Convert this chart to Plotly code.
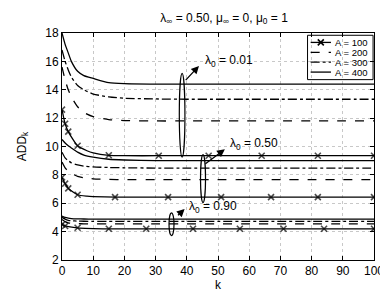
import plotly.graph_objects as go

# ---------------- data ----------------
k_grid = [0, 1, 2, 3, 5, 7, 10, 15, 20, 30, 40, 50, 60, 70, 80, 90, 100]

# lambda0 = 0.01
l001_A400 = [18.0, 17.2, 16.6, 16.0, 15.3, 15.0, 14.8, 14.5, 14.43, 14.4, 14.4, 14.4, 14.4, 14.4, 14.4, 14.4, 14.4]
l001_A300 = [16.8, 16.0, 15.4, 14.9, 14.3, 14.0, 13.7, 13.5, 13.4, 13.35, 13.33, 13.33, 13.33, 13.33, 13.33, 13.33, 13.33]
l001_A200 = [15.6, 14.7, 14.0, 13.5, 12.8, 12.4, 12.1, 11.9, 11.83, 11.8, 11.8, 11.8, 11.8, 11.8, 11.8, 11.8, 11.8]
l001_A100_k = [0, 1, 2, 5, 8, 10, 15, 20, 31, 47, 64, 82, 100]
l001_A100 = [12.6, 11.6, 11.05, 10.05, 9.7, 9.55, 9.38, 9.35, 9.35, 9.35, 9.35, 9.35, 9.35]
l001_A100_mk = [0, 1, 2, 5, 15, 31, 47, 64, 82, 100]

# lambda0 = 0.50
l050_A400 = [10.5, 10.25, 10.05, 9.9, 9.6, 9.4, 9.25, 9.1, 9.05, 9.0, 9.0, 9.0, 9.0, 9.0, 9.0, 9.0, 9.0]
l050_A300 = [9.6, 9.2, 9.0, 8.85, 8.7, 8.62, 8.56, 8.52, 8.5, 8.48, 8.48, 8.48, 8.48, 8.48, 8.48, 8.48, 8.48]
l050_A200 = [8.9, 8.5, 8.25, 8.1, 7.9, 7.8, 7.72, 7.68, 7.66, 7.66, 7.66, 7.66, 7.66, 7.66, 7.66, 7.66, 7.66]
l050_A100_k = [0, 1, 2, 5, 8, 10, 17, 34, 51, 67, 82, 100]
l050_A100 = [7.82, 7.38, 7.05, 6.6, 6.5, 6.47, 6.43, 6.43, 6.43, 6.43, 6.43, 6.43]
l050_A100_mk = [0, 1, 2, 5, 17, 34, 51, 67, 82, 100]

# lambda0 = 0.90
l090_A400 = [5.1, 5.0, 4.95, 4.92, 4.9, 4.89, 4.88, 4.88, 4.88, 4.88, 4.88, 4.88, 4.88, 4.88, 4.88, 4.88, 4.88]
l090_A300 = [5.0, 4.88, 4.8, 4.77, 4.74, 4.73, 4.72, 4.72, 4.72, 4.72, 4.72, 4.72, 4.72, 4.72, 4.72, 4.72, 4.72]
l090_A200 = [4.85, 4.7, 4.62, 4.58, 4.56, 4.55, 4.54, 4.54, 4.54, 4.54, 4.54, 4.54, 4.54, 4.54, 4.54, 4.54, 4.54]
l090_A100_k = [0, 1, 5, 15, 27, 42, 57, 71, 84, 100]
l090_A100 = [4.5, 4.4, 4.27, 4.2, 4.2, 4.2, 4.2, 4.2, 4.2, 4.2]
l090_A100_mk = [0, 1, 5, 15, 27, 42, 57, 71, 84, 100]

legend_labels = ["A = 100", "A = 200", "A = 300", "A = 400"]
legend_dashes = ["solid", "dash", "dashdot", "solid"]
title_text = "λ<sub>∞</sub> = 0.50, μ<sub>∞</sub> = 0, μ<sub>0</sub> = 1"
group_labels = ["λ<sub>0</sub> = 0.01", "λ<sub>0</sub> = 0.50", "λ<sub>0</sub> = 0.90"]

# ---------------- figure ----------------
FONT = "Liberation Sans, Arial, Helvetica, sans-serif"
fig = go.Figure()
LW = 1.3
MK = dict(symbol="x-thin-open", color="black", line=dict(color="black", width=1.6))

def line(x, y, dash):
    fig.add_trace(go.Scatter(x=x, y=y, mode="lines", showlegend=False,
                             line=dict(color="black", width=LW, dash=dash, shape="spline", smoothing=0.6),
                             hoverinfo="skip"))

def marked(x, y, mk):
    sizes = [6 if xv in mk else 0 for xv in x]
    fig.add_trace(go.Scatter(x=x, y=y, mode="lines+markers", showlegend=False,
                             line=dict(color="black", width=LW, shape="spline", smoothing=0.6),
                             marker=dict(size=sizes, **MK),
                             hoverinfo="skip"))

for a400, a300, a200, (k1, a100, mk) in [
    (l001_A400, l001_A300, l001_A200, (l001_A100_k, l001_A100, l001_A100_mk)),
    (l050_A400, l050_A300, l050_A200, (l050_A100_k, l050_A100, l050_A100_mk)),
    (l090_A400, l090_A300, l090_A200, (l090_A100_k, l090_A100, l090_A100_mk)),
]:
    line(k_grid, a400, "solid")
    line(k_grid, a300, "dashdot")
    line(k_grid, a200, "dash")
    marked(k1, a100, mk)

# ellipses
ell = [(37.6, 39.4, 9.25, 15.15), (44.4, 46.0, 6.05, 9.43), (34.3, 35.9, 3.72, 5.32)]
for x0, x1, y0, y1 in ell:
    fig.add_shape(type="circle", xref="x", yref="y", x0=x0, x1=x1, y0=y0, y1=y1,
                  line=dict(color="black", width=1.2))

# arrows + labels
arrows = [((39.2, 14.57), (43.9, 15.68), (45.3, 16.0)),
          ((45.5, 8.7), (52.2, 9.81), (53.2, 10.18)),
          ((36.7, 5.05), (39.3, 5.6), (40.0, 5.72))]
for (tx, ty), (hx, hy), _ in arrows:
    fig.add_annotation(x=hx, y=hy, ax=tx, ay=ty, xref="x", yref="y", axref="x", ayref="y",
                       showarrow=True, arrowhead=2, arrowsize=1.2, arrowwidth=1.3, arrowcolor="black", text="")
for lab, (_, _, (lx, ly)) in zip(group_labels, arrows):
    fig.add_annotation(x=lx, y=ly, xref="x", yref="y", text=lab, showarrow=False,
                       xanchor="left", yanchor="middle", font=dict(family=FONT, size=12, color="black"))

# ---------- hand-built compact legend (paper-fraction overlay axes) ----------
lg_x0, lg_x1, lg_y0, lg_y1 = 0.787, 0.997, 0.7946, 0.990
row_y = [0.9585, 0.915, 0.8714, 0.8278]
samp_x0, samp_x1, txt_x = 0.797, 0.862, 0.869
fig.add_shape(type="rect", xref="paper", yref="paper", x0=lg_x0, x1=lg_x1, y0=lg_y0, y1=lg_y1,
              line=dict(color="black", width=1), fillcolor="white", layer="between")
for i, (lab, dsh) in enumerate(zip(legend_labels, legend_dashes)):
    fig.add_trace(go.Scatter(x=[samp_x0, samp_x1], y=[row_y[i], row_y[i]], mode="lines",
                             xaxis="x2", yaxis="y2", showlegend=False, hoverinfo="skip",
                             line=dict(color="black", width=LW, dash=dsh)))
    fig.add_annotation(x=txt_x, y=row_y[i], xref="paper", yref="paper", text=lab, showarrow=False,
                       xanchor="left", yanchor="middle", font=dict(family=FONT, size=9.5, color="black"))
fig.add_trace(go.Scatter(x=[(samp_x0 + samp_x1) / 2], y=[row_y[0]], mode="markers",
                         xaxis="x2", yaxis="y2", showlegend=False, hoverinfo="skip",
                         marker=dict(size=6, **MK)))

axis_common = dict(showline=True, linecolor="black", linewidth=1, mirror="ticks",
                   ticks="inside", ticklen=4, tickcolor="black",
                   showgrid=True, gridcolor="#c8c8c8", griddash="dot", gridwidth=1,
                   zeroline=False, tickfont=dict(family=FONT, size=12, color="black"))

fig.update_xaxes(range=[0, 100], dtick=10, tick0=0,
                 title=dict(text="k", font=dict(family=FONT, size=12, color="black"), standoff=0),
                 **axis_common)
fig.update_yaxes(range=[2, 18], dtick=2, tick0=2,
                 title=dict(text="ADD<sub>k</sub>", font=dict(family=FONT, size=12, color="black"), standoff=16),
                 **axis_common)

fig.update_layout(
    width=388, height=291,
    margin=dict(l=54, r=13, t=25, b=25),
    paper_bgcolor="white", plot_bgcolor="white",
    xaxis2=dict(overlaying="x", range=[0, 1], visible=False, fixedrange=True),
    yaxis2=dict(overlaying="y", range=[0, 1], visible=False, fixedrange=True),
    title=dict(text=title_text, x=0.557, xanchor="center", y=0.968, yanchor="middle",
               font=dict(family=FONT, size=12, color="black")),
    showlegend=False,
    font=dict(family=FONT),
)

fig.write_html("out.html")
